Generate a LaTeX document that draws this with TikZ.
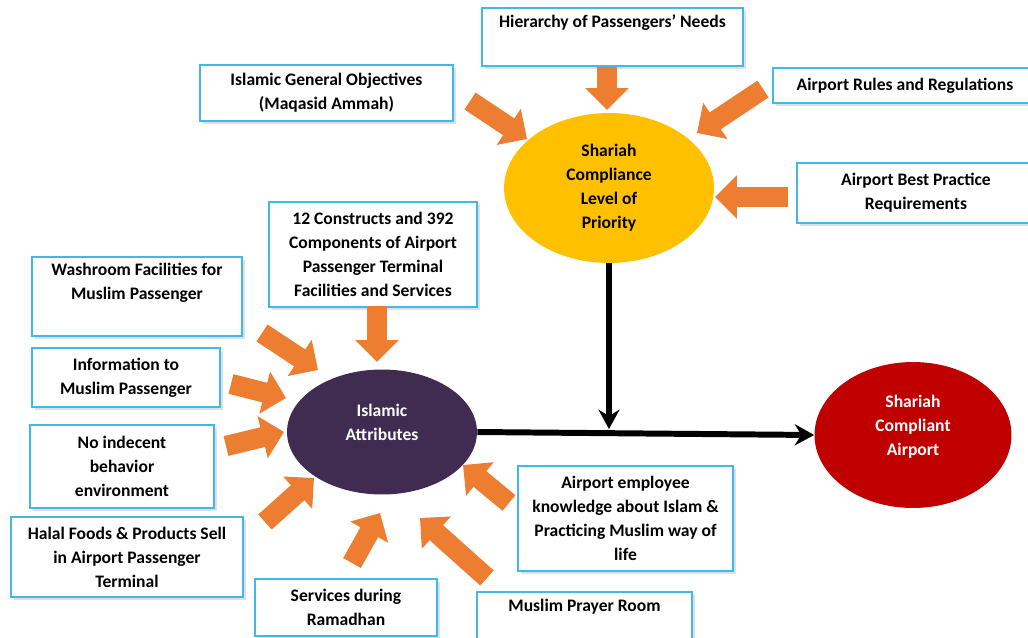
\documentclass[tikz,border=0pt]{standalone}
\usepackage{fontspec}
\setmainfont{Carlito}
\usetikzlibrary{shapes.geometric, arrows.meta, shadows}

\definecolor{boxblue}{RGB}{64,184,234}
\definecolor{arrorange}{RGB}{237,125,49}
\definecolor{priogold}{RGB}{255,192,0}
\definecolor{attrpurple}{RGB}{64,44,80}
\definecolor{airred}{RGB}{192,0,0}

\tikzset{
  box/.style={rectangle, draw=boxblue, line width=1pt, fill=white, align=center, inner sep=2pt,
    font=\fontsize{10}{13.6}\selectfont\bfseries,
    drop shadow={opacity=0.25, shadow xshift=1.5pt, shadow yshift=-1.5pt}},
  blob/.style={ellipse, inner sep=0pt, align=center, font=\fontsize{10}{13.6}\selectfont\bfseries},
  feed/.style={arrorange, line width=11.5pt, -{Triangle[width=24pt,length=12.5pt]}},
  flow/.style={black, line width=3.4pt, -{Stealth[length=11pt,width=12pt]}}
}

\begin{document}
\begin{tikzpicture}[x=0.02cm, y=-0.02cm]
\clip (0,0) rectangle (1028,637);

\node[blob, fill=priogold, minimum width=4.2cm, minimum height=3cm] (yel) at (609,188) {Shariah\\Compliance\\Level of\\Priority};
\node[blob, fill=attrpurple, text=white, minimum width=3.8cm, minimum height=2.5cm] (attr) at (382,432) {Islamic\\Attributes\\[-6.8pt]\strut};
\node[blob, fill=airred, text=white, minimum width=3.94cm, minimum height=2.92cm] (red) at (913,435) {Shariah\\Compliant\\Airport\\[-6.8pt]\strut};

\node[box, minimum width=5.22cm, minimum height=1.16cm] (hier) at (612.5,37) {Hierarchy of Passengers’ Needs\\\strut};
\node[box, minimum width=5.06cm, minimum height=1.12cm] (obj) at (326.5,93) {Islamic General Objectives\\(Maqasid Ammah)};
\node[box, minimum width=5.28cm, minimum height=0.7cm] (rules) at (905,85.5) {Airport Rules and Regulations};
\node[box, minimum width=4.76cm, minimum height=1.2cm] (best) at (916,193) {Airport Best Practice\\Requirements};
\node[box, minimum width=4.16cm, minimum height=2.1cm] (cons) at (373,254.5) {12 Constructs and 392\\Components of Airport\\Passenger Terminal\\Facilities and Services};
\node[box, minimum width=4.2cm, minimum height=1.58cm] (wash) at (137,296.5) {Washroom Facilities for\\Muslim Passenger\\\strut};
\node[box, minimum width=3.76cm, minimum height=1.18cm] (info) at (126,377.5) {Information to\\Muslim Passenger};
\node[box, minimum width=3.68cm, minimum height=1.66cm] (indec) at (122,466.5) {No indecent\\behavior\\environment};
\node[box, minimum width=4.64cm, minimum height=1.6cm] (halal) at (127,557) {Halal Foods \& Products Sell\\in Airport Passenger\\Terminal};
\node[box, minimum width=3.64cm, minimum height=1.14cm] (ram) at (346,607.5) {Services during\\Ramadhan};
\node[box, minimum width=4.3cm, minimum height=1.16cm] (pray) at (584.5,621) {Muslim Prayer Room\\\strut};
\node[box, minimum width=4.3cm, minimum height=2.1cm] (empl) at (625.5,518.5) {Airport employee\\knowledge about Islam \&\\Practicing Muslim way of\\life};

\draw[feed] (607,67) -- (607,110);
\draw[feed] (470,101) -- (527,139);
\draw[feed] (763,89) -- (697,133);
\draw[feed] (788,197) -- (715,197);

\draw[feed] (377,306) -- (377,362);
\draw[feed] (262,333) -- (318,370);
\draw[feed] (231,384) -- (286,398);
\draw[feed] (226,446) -- (284,432);
\draw[feed] (265,522) -- (314,478);
\draw[feed] (352,563) -- (380,513);
\draw[feed] (487,578) -- (420,518);
\draw[feed] (509,503) -- (463,465);

\coordinate (meet) at (yel.south |- attr.east);
\draw[flow] (attr.east) -- (red.west);
\draw[flow, shorten >=1.7pt] (yel.south) -- (meet);

\end{tikzpicture}
\end{document}
